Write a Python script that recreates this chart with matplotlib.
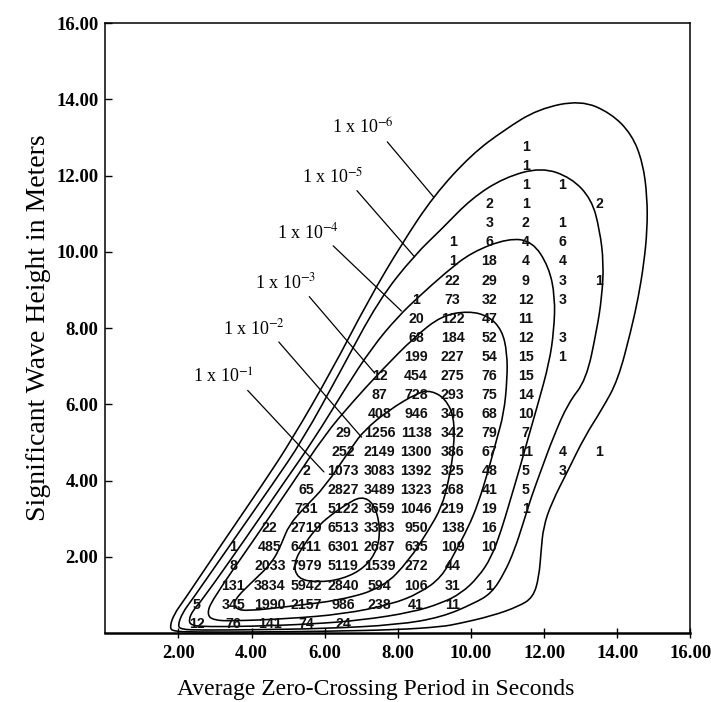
import matplotlib.pyplot as plt
from matplotlib.path import Path
from matplotlib.patches import PathPatch

plt.rcParams['font.family'] = ['Liberation Serif', 'DejaVu Serif']
plt.rcParams['mathtext.fontset'] = 'stix'

# scatter diagram: zero-crossing period (s) x significant wave height (m)
periods = [2.5, 3.5, 4.5, 5.5, 6.5, 7.5, 8.5, 9.5, 10.5, 11.5, 12.5, 13.5]
heights = [12.75, 12.25, 11.75, 11.25, 10.75, 10.25, 9.75, 9.25, 8.75, 8.25,
           7.75, 7.25, 6.75, 6.25, 5.75, 5.25, 4.75, 4.25, 3.75, 3.25,
           2.75, 2.25, 1.75, 1.25, 0.75, 0.25]
# 0 = empty cell
counts = [
    [0, 0, 0, 0, 0, 0, 0, 0, 0, 1, 0, 0],
    [0, 0, 0, 0, 0, 0, 0, 0, 0, 1, 0, 0],
    [0, 0, 0, 0, 0, 0, 0, 0, 0, 1, 1, 0],
    [0, 0, 0, 0, 0, 0, 0, 0, 2, 1, 0, 2],
    [0, 0, 0, 0, 0, 0, 0, 0, 3, 2, 1, 0],
    [0, 0, 0, 0, 0, 0, 0, 1, 6, 4, 6, 0],
    [0, 0, 0, 0, 0, 0, 0, 1, 18, 4, 4, 0],
    [0, 0, 0, 0, 0, 0, 0, 22, 29, 9, 3, 1],
    [0, 0, 0, 0, 0, 0, 1, 73, 32, 12, 3, 0],
    [0, 0, 0, 0, 0, 0, 20, 122, 47, 11, 0, 0],
    [0, 0, 0, 0, 0, 0, 68, 184, 52, 12, 3, 0],
    [0, 0, 0, 0, 0, 0, 199, 227, 54, 15, 1, 0],
    [0, 0, 0, 0, 0, 12, 454, 275, 76, 15, 0, 0],
    [0, 0, 0, 0, 0, 87, 728, 293, 75, 14, 0, 0],
    [0, 0, 0, 0, 0, 408, 946, 346, 68, 10, 0, 0],
    [0, 0, 0, 0, 29, 1256, 1138, 342, 79, 7, 0, 0],
    [0, 0, 0, 0, 252, 2149, 1300, 386, 67, 11, 4, 1],
    [0, 0, 0, 2, 1073, 3083, 1392, 325, 48, 5, 3, 0],
    [0, 0, 0, 65, 2827, 3489, 1323, 268, 41, 5, 0, 0],
    [0, 0, 0, 731, 5122, 3659, 1046, 219, 19, 1, 0, 0],
    [0, 0, 22, 2719, 6513, 3383, 950, 138, 16, 0, 0, 0],
    [0, 1, 485, 6411, 6301, 2687, 635, 109, 10, 0, 0, 0],
    [0, 8, 2033, 7979, 5119, 1539, 272, 44, 0, 0, 0, 0],
    [0, 131, 3834, 5942, 2840, 594, 106, 31, 1, 0, 0, 0],
    [5, 345, 1990, 2157, 986, 238, 41, 11, 0, 0, 0, 0],
    [12, 76, 141, 74, 24, 0, 0, 0, 0, 0, 0, 0],
]

# probability contours (period, height)
prob_1e1 = [(5.84, 2.83), (6.2, 3.12), (6.55, 3.35), (7.0, 3.6), (7.35, 3.4),
            (7.52, 2.8), (7.45, 2.2), (7.1, 1.72), (6.5, 1.42), (5.8, 1.33),
            (5.25, 1.43), (5.15, 1.85), (5.45, 2.35), (5.84, 2.83)]
prob_1e2 = [(6.0, 3.83), (6.74, 4.88), (7.09, 5.33), (7.75, 5.85), (8.57, 6.32),
            (8.92, 6.36), (9.3, 6.15), (9.54, 5.67), (9.54, 4.88), (9.4, 4.02),
            (9.2, 3.31), (8.84, 2.7), (8.3, 1.9), (7.6, 1.2), (6.47, 0.87),
            (5.0, 0.7), (3.9, 0.58), (3.55, 0.64), (3.52, 0.87), (4.01, 1.34),
            (4.56, 1.84), (4.83, 2.36), (5.02, 2.83), (5.45, 3.3), (6.0, 3.83)]
prob_1e3 = [(2.92, 0.87), (4.1, 2.5), (5.1, 3.9), (6.0, 5.2), (6.74, 6.04),
            (7.56, 6.9), (8.46, 7.77), (9.2, 8.33), (9.93, 8.45), (10.48, 8.32),
            (10.85, 7.95), (10.99, 7.35), (10.99, 6.64), (10.9, 5.77), (10.7, 5.07),
            (10.48, 4.28), (10.2, 3.41), (9.93, 2.78), (9.55, 2.1), (9.2, 1.47),
            (8.6, 1.05), (7.8, 0.75), (6.5, 0.5), (5.0, 0.38), (3.5, 0.32),
            (2.95, 0.34), (2.78, 0.5), (2.92, 0.87)]
prob_1e4 = [(2.65, 0.87), (3.85, 2.5), (4.85, 3.9), (5.7, 5.07), (6.55, 6.4),
            (7.3, 7.5), (8.0, 8.3), (8.6, 8.85), (9.3, 9.45), (10.01, 9.99),
            (11.02, 10.36), (11.68, 10.28), (12.13, 9.61), (12.3, 8.82), (12.27, 7.95),
            (12.14, 7.09), (11.84, 6.04), (11.57, 5.14), (11.32, 4.28), (11.05, 3.41),
            (10.83, 2.7), (10.56, 1.99), (10.2, 1.47), (9.74, 1.05), (9.2, 0.79),
            (8.4, 0.55), (7.0, 0.34), (5.65, 0.24), (4.0, 0.18), (2.8, 0.17),
            (2.35, 0.2), (2.28, 0.35), (2.4, 0.6), (2.65, 0.87)]
prob_1e5 = [(2.37, 0.87), (3.55, 2.5), (4.57, 3.9), (5.4, 5.07), (6.45, 6.9),
            (7.48, 8.74), (8.46, 9.92), (9.2, 10.6), (10.01, 11.4), (10.91, 11.95),
            (11.92, 12.22), (12.74, 11.95), (13.3, 11.38), (13.52, 10.58), (13.63, 9.71),
            (13.58, 8.82), (13.44, 7.95), (13.15, 6.64), (12.66, 6.04), (12.25, 5.14),
            (11.92, 4.28), (11.65, 3.57), (11.43, 2.89), (11.19, 2.18), (10.91, 1.57),
            (10.56, 1.05), (10.1, 0.79), (9.2, 0.42), (8.0, 0.22), (6.0, 0.12),
            (4.0, 0.09), (2.6, 0.08), (2.08, 0.1), (1.98, 0.2), (2.12, 0.55),
            (2.37, 0.87)]
prob_1e6 = [(2.16, 0.87), (3.3, 2.5), (4.3, 3.9), (5.1, 5.07), (6.2, 6.9),
            (7.2, 8.74), (8.1, 10.2), (8.98, 11.47), (10.01, 12.55), (10.91, 13.2),
            (11.84, 13.75), (13.0, 13.98), (13.83, 13.64), (14.4, 13.08), (14.7, 12.34),
            (14.82, 11.44), (14.82, 10.58), (14.73, 9.71), (14.58, 8.82), (14.38, 7.95),
            (14.02, 6.64), (13.6, 5.9), (13.1, 5.14), (12.66, 4.28), (12.2, 3.41),
            (11.98, 2.78), (11.92, 2.18), (11.86, 1.47), (11.7, 0.94), (11.3, 0.7),
            (10.56, 0.45), (9.66, 0.25), (9.2, 0.17), (8.0, 0.09), (6.0, 0.05),
            (4.0, 0.03), (2.4, 0.03), (1.86, 0.05), (1.76, 0.15), (1.88, 0.5),
            (2.16, 0.87)]
contours = [prob_1e1, prob_1e2, prob_1e3, prob_1e4, prob_1e5, prob_1e6]

level_labels = ['1 x 10$^{-1}$', '1 x 10$^{-2}$', '1 x 10$^{-3}$',
                '1 x 10$^{-4}$', '1 x 10$^{-5}$', '1 x 10$^{-6}$']
label_pos = [(3.23, 6.72), (4.08, 8.0), (4.92, 9.19), (5.55, 10.52), (6.22, 11.97), (7.05, 13.25)]
leader_end = [(5.98, 4.23), (7.01, 5.14), (7.37, 6.82), (8.1, 8.45), (8.46, 9.87), (8.98, 11.44)]


def smooth_closed(pts):
    # quadratic curve through segment midpoints, traced points act as controls
    pts = pts[:-1]
    n = len(pts)
    mid = lambda a, b: ((a[0] + b[0]) / 2, (a[1] + b[1]) / 2)
    verts = [mid(pts[0], pts[1])]
    codes = [Path.MOVETO]
    for i in range(1, n + 1):
        verts.append(pts[i % n])
        verts.append(mid(pts[i % n], pts[(i + 1) % n]))
        codes += [Path.CURVE3, Path.CURVE3]
    return Path(verts, codes)


fig = plt.figure(figsize=(7.11, 7.02), dpi=100)
ax = fig.add_axes([0.148, 0.098, 0.823, 0.869])

for c in contours:
    ax.add_patch(PathPatch(smooth_closed(c), facecolor='none', edgecolor='black', lw=1.15))

for i, h in enumerate(heights):
    for j, t in enumerate(periods):
        n = counts[i][j]
        if n:
            ax.text(t, h, str(n), ha='center', va='center', fontsize=10.2,
                    fontweight='bold', family='Liberation Sans', color='#111111')

for lab, pos, end in zip(level_labels, label_pos, leader_end):
    ax.annotate(lab, xy=end, xytext=pos, ha='center', va='center', fontsize=13,
                arrowprops=dict(arrowstyle='-', color='black', lw=0.9,
                                shrinkA=1, shrinkB=0, relpos=(0.84, 0.0)))

ax.set_xlim(0, 16)
ax.set_ylim(0, 16)
ticks = [2, 4, 6, 8, 10, 12, 14, 16]
ax.set_xticks(ticks)
ax.set_yticks(ticks)
ax.set_xticklabels(['%.2f' % v for v in ticks], fontsize=13.5, fontweight='bold')
ax.set_yticklabels(['%.2f' % v for v in ticks], fontsize=13.5, fontweight='bold')
ax.tick_params(axis='x', direction='inout', length=7, width=1, pad=5)
ax.tick_params(axis='y', direction='in', length=5, width=1, pad=5)
for s in ax.spines.values():
    s.set_linewidth(1.1)
ax.spines['bottom'].set_linewidth(1.8)

ax.set_xlabel('Average Zero-Crossing Period in Seconds', fontsize=17)
ax.set_ylabel('Significant Wave Height in Meters', fontsize=20)
ax.xaxis.set_label_coords(0.463, -0.075)
ax.yaxis.set_label_coords(-0.092, 0.5)

fig.savefig('out.png', dpi=100)
